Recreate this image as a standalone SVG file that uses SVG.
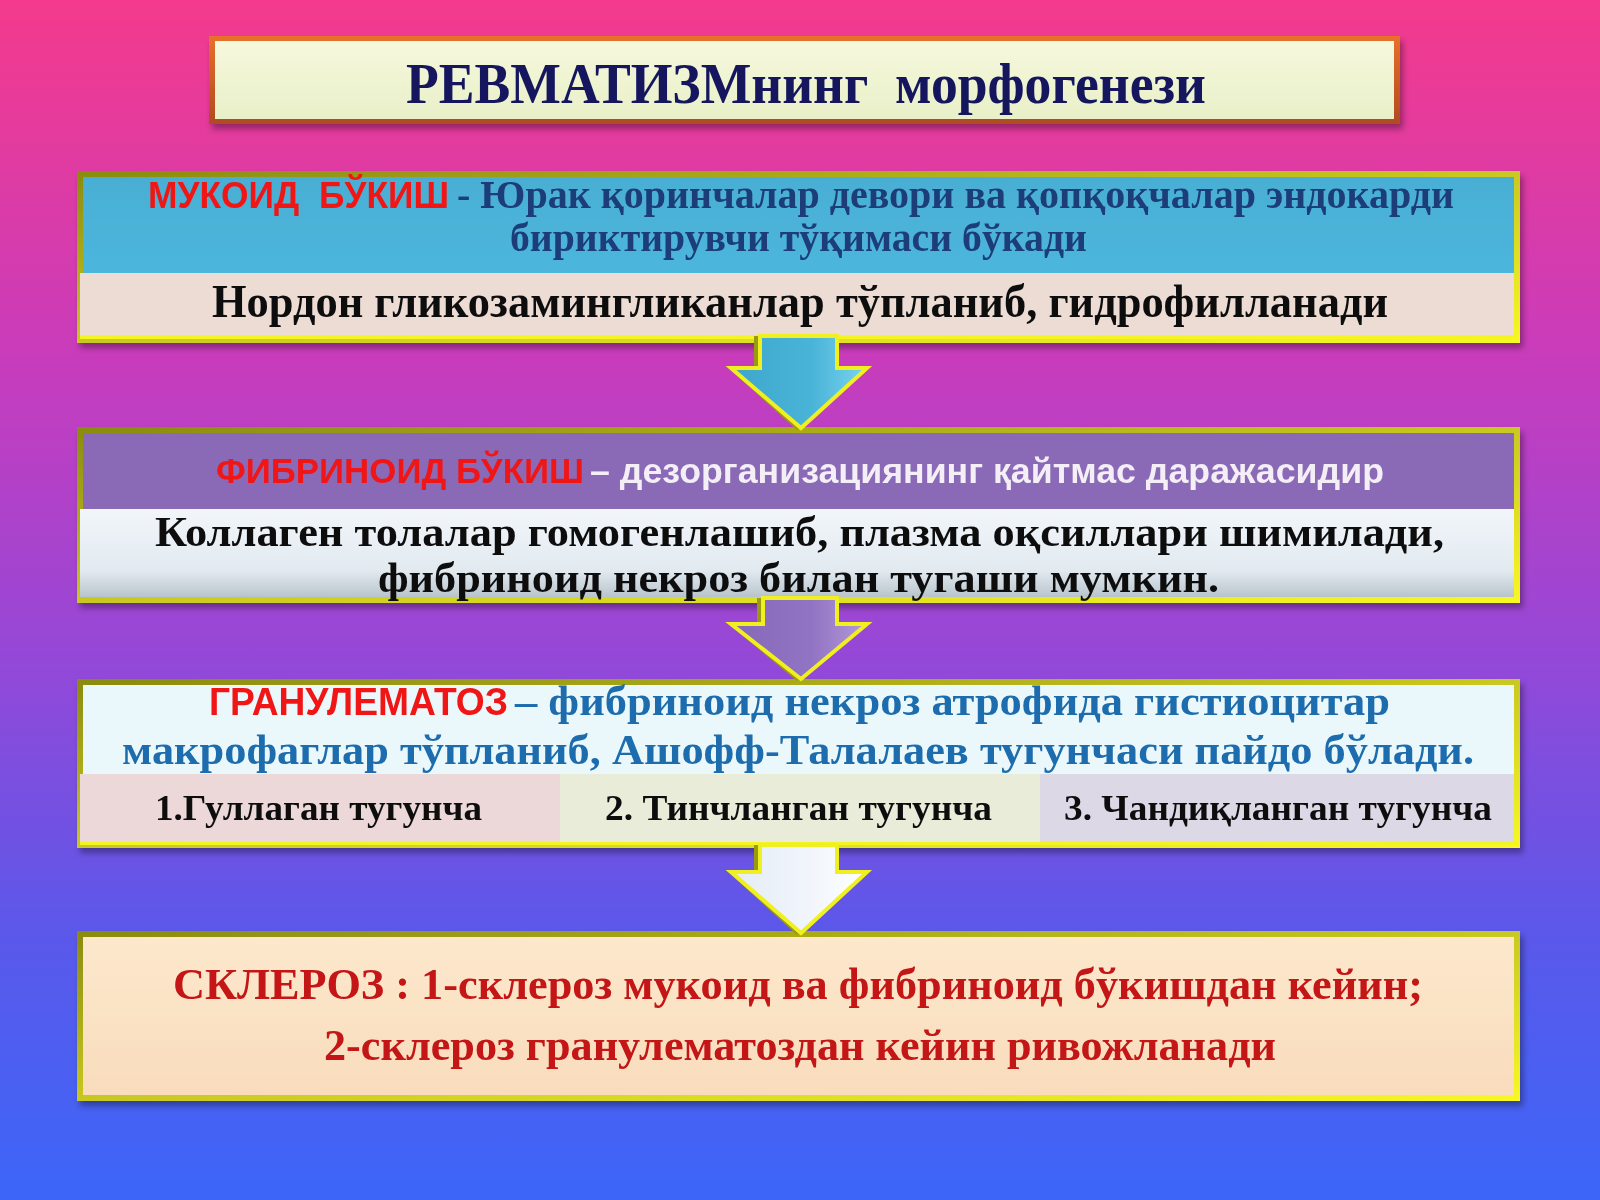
<svg xmlns="http://www.w3.org/2000/svg" width="1600" height="1200" viewBox="0 0 1600 1200">
<defs>
<linearGradient id="bg" x1="0" y1="0" x2="0" y2="1">
<stop offset="0" stop-color="#f43a8c"/>
<stop offset="0.3" stop-color="#c83cbc"/>
<stop offset="0.55" stop-color="#9448d8"/>
<stop offset="0.78" stop-color="#5a58ea"/>
<stop offset="1" stop-color="#3c66f8"/>
</linearGradient>
<linearGradient id="frame" x1="0" y1="0" x2="1" y2="1">
<stop offset="0" stop-color="#8a8a10"/>
<stop offset="0.5" stop-color="#c8c820"/>
<stop offset="1" stop-color="#f8f820"/>
</linearGradient>
<linearGradient id="tframe" x1="0" y1="0" x2="0" y2="1">
<stop offset="0" stop-color="#e8702a"/>
<stop offset="1" stop-color="#b04a20"/>
</linearGradient>
<linearGradient id="titleFill" x1="0" y1="0" x2="0" y2="1">
<stop offset="0" stop-color="#f6f8dc"/>
<stop offset="1" stop-color="#e8f0c8"/>
</linearGradient>
<linearGradient id="blueFill" x1="0" y1="0" x2="0" y2="1">
<stop offset="0" stop-color="#4aaed4"/>
<stop offset="1" stop-color="#4cb6dc"/>
</linearGradient>
<linearGradient id="greyFill" x1="0" y1="0" x2="0" y2="1">
<stop offset="0" stop-color="#f2f6fa"/>
<stop offset="0.7" stop-color="#e2eaf0"/>
<stop offset="1" stop-color="#b8c4cc"/>
</linearGradient>
<linearGradient id="peach" x1="0" y1="0" x2="0" y2="1">
<stop offset="0" stop-color="#fde8cc"/>
<stop offset="1" stop-color="#f8dcbc"/>
</linearGradient>
<linearGradient id="arBlue" x1="0" y1="0" x2="1" y2="0">
<stop offset="0" stop-color="#3ea6cc"/>
<stop offset="0.6" stop-color="#4ab4d8"/>
<stop offset="1" stop-color="#7ad4f0"/>
</linearGradient>
<linearGradient id="arPurple" x1="0" y1="0" x2="1" y2="0">
<stop offset="0" stop-color="#8668b8"/>
<stop offset="0.6" stop-color="#9274c4"/>
<stop offset="1" stop-color="#b49ad8"/>
</linearGradient>
<linearGradient id="arWhite" x1="0" y1="0" x2="1" y2="0">
<stop offset="0" stop-color="#e4ecf6"/>
<stop offset="0.6" stop-color="#f2f6fc"/>
<stop offset="1" stop-color="#ffffff"/>
</linearGradient>
<filter id="sh" x="-5%" y="-10%" width="110%" height="125%">
<feDropShadow dx="3" dy="5" stdDeviation="3" flood-color="#000" flood-opacity="0.35"/>
</filter>
</defs>
<style>
.serif{font-family:"Liberation Serif","Times New Roman",serif;font-weight:bold}
.sans{font-family:"Liberation Sans",Arial,sans-serif;font-weight:bold}
.red{fill:#f01818}
.navy{fill:#1c3c78}
.blk{fill:#111111}
.frame{fill:url(#frame)}
.arrow{stroke:#f0f020;stroke-width:4;stroke-linejoin:miter}
.arrowBack{fill:#9a9a10}
</style>
<rect width="1600" height="1200" fill="url(#bg)"/>

<g id="title" filter="url(#sh)">
<rect x="209" y="36" width="1191" height="88" fill="url(#tframe)"/>
<rect x="215" y="41" width="1179" height="78" fill="url(#titleFill)"/>
<text class="serif" x="406" y="103" font-size="58" fill="#13185e" xml:space="preserve" textLength="800" lengthAdjust="spacingAndGlyphs">РЕВМАТИЗМнинг  морфогенези</text>
</g>

<g id="mucoid" filter="url(#sh)">
<rect x="77" y="171" width="1443" height="172" class="frame"/>
<rect x="83" y="177" width="1431" height="96" fill="url(#blueFill)"/>
<rect x="80" y="273" width="1434" height="62" fill="#ecdcd4"/>
<rect x="80" y="335" width="1437" height="4" fill="#f4f420"/>
<text class="sans red" x="148" y="208" font-size="37" xml:space="preserve" textLength="301" lengthAdjust="spacingAndGlyphs">МУКОИД  БЎКИШ</text>
<text class="serif navy" x="457" y="208" font-size="40" textLength="997" lengthAdjust="spacingAndGlyphs">- Юрак қоринчалар девори ва қопқоқчалар эндокарди</text>
<text class="serif navy" x="510" y="251" font-size="40" textLength="577" lengthAdjust="spacingAndGlyphs">бириктирувчи тўқимаси бўкади</text>
<text class="serif blk" x="212" y="317" font-size="46" textLength="1176" lengthAdjust="spacingAndGlyphs">Нордон гликозамингликанлар тўпланиб, гидрофилланади</text>
</g>

<g id="fibrinoid" filter="url(#sh)">
<rect x="77" y="427" width="1443" height="176" class="frame"/>
<rect x="83" y="433" width="1431" height="76" fill="#8a6ab6"/>
<rect x="80" y="509" width="1434" height="88" fill="url(#greyFill)"/>
<text class="sans red" x="216" y="483" font-size="35" textLength="368" lengthAdjust="spacingAndGlyphs">ФИБРИНОИД БЎКИШ</text>
<text class="sans" x="590" y="483" font-size="35" fill="#f4eef6" textLength="794" lengthAdjust="spacingAndGlyphs">– дезорганизациянинг қайтмас даражасидир</text>
<text class="serif blk" x="155" y="546" font-size="43" textLength="1289" lengthAdjust="spacingAndGlyphs">Коллаген толалар гомогенлашиб, плазма оқсиллари шимилади,</text>
<text class="serif blk" x="378" y="592" font-size="43" textLength="841" lengthAdjust="spacingAndGlyphs">фибриноид некроз билан тугаши мумкин.</text>
</g>

<g id="granulematoz" filter="url(#sh)">
<rect x="77" y="679" width="1443" height="169" class="frame"/>
<rect x="83" y="685" width="1431" height="89" fill="#eaf8fc"/>
<rect x="80" y="774" width="480" height="68" fill="#ecd8d8"/>
<rect x="560" y="774" width="480" height="68" fill="#e8ecd8"/>
<rect x="1040" y="774" width="474" height="68" fill="#ddd8e6"/>
<rect x="80" y="842" width="1437" height="3" fill="#f4f420"/>
<text class="sans red" x="209" y="715" font-size="38" textLength="299" lengthAdjust="spacingAndGlyphs">ГРАНУЛЕМАТОЗ</text>
<text class="serif" x="515" y="715" font-size="43" fill="#1c6cae" textLength="875" lengthAdjust="spacingAndGlyphs">– фибриноид некроз атрофида гистиоцитар</text>
<text class="serif" x="122" y="764" font-size="43" fill="#1c6cae" textLength="1352" lengthAdjust="spacingAndGlyphs">макрофаглар тўпланиб, Ашофф-Талалаев тугунчаси пайдо бўлади.</text>
<text class="serif blk" x="155" y="820" font-size="35" textLength="327" lengthAdjust="spacingAndGlyphs">1.Гуллаган тугунча</text>
<text class="serif blk" x="605" y="820" font-size="35" textLength="387" lengthAdjust="spacingAndGlyphs">2. Тинчланган тугунча</text>
<text class="serif blk" x="1064" y="820" font-size="35" textLength="428" lengthAdjust="spacingAndGlyphs">3. Чандиқланган тугунча</text>
</g>

<g id="skleroz" filter="url(#sh)">
<rect x="77" y="931" width="1443" height="170" class="frame"/>
<rect x="83" y="937" width="1431" height="158" fill="url(#peach)"/>
<text class="serif" x="173" y="999" font-size="44" fill="#c41414" textLength="1250" lengthAdjust="spacingAndGlyphs">СКЛЕРОЗ : 1-склероз мукоид ва фибриноид бўкишдан кейин;</text>
<text class="serif" x="324" y="1060" font-size="44" fill="#c41414" textLength="952" lengthAdjust="spacingAndGlyphs">2-склероз гранулематоздан кейин ривожланади</text>
</g>

<g id="connectors">
<g id="arrow1">
<polygon class="arrowBack" points="754,336 831,336 831,366 861,366 797,430 726,366 754,366"/>
<polygon class="arrow" fill="url(#arBlue)" points="760,336 837,336 837,368 867,368 801,428 731,368 760,368"/>
</g>
<g id="arrow2">
<polygon class="arrowBack" points="757,598 831,598 831,622 861,622 797,681 726,622 757,622"/>
<polygon class="arrow" fill="url(#arPurple)" points="763,598 837,598 837,624 867,624 801,679 731,624 763,624"/>
</g>
<g id="arrow3">
<polygon class="arrowBack" points="754,845 831,845 831,870 861,870 797,935 726,870 754,870"/>
<polygon class="arrow" fill="url(#arWhite)" points="760,845 837,845 837,872 867,872 801,933 731,872 760,872"/>
</g>
</g>
</svg>
